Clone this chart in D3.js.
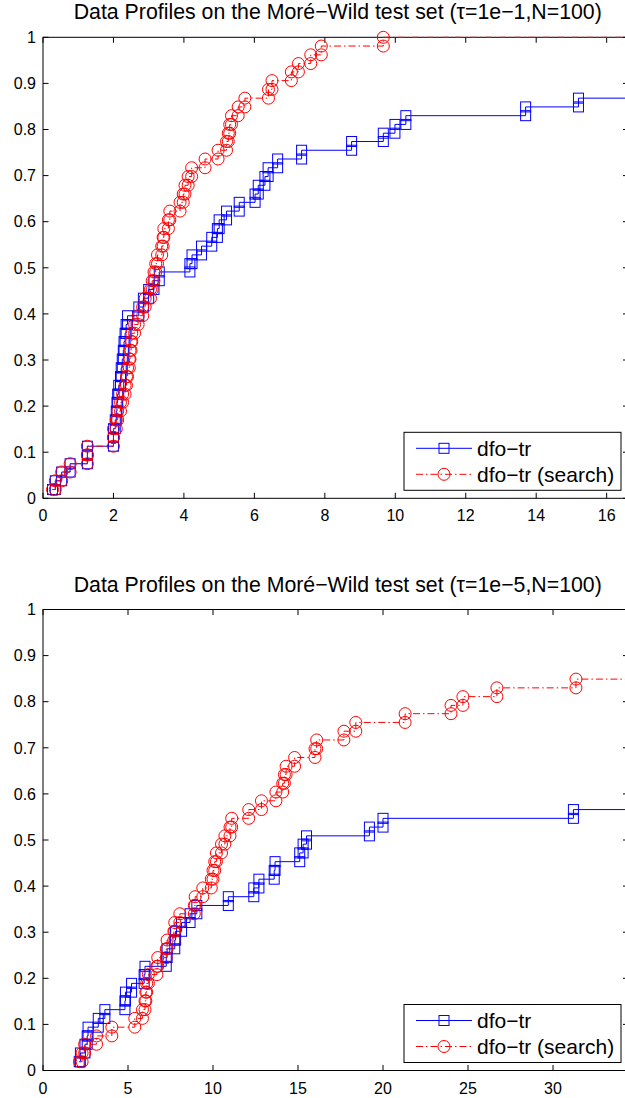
<!DOCTYPE html>
<html>
<head>
<meta charset="utf-8">
<script src="https://cdn.jsdelivr.net/npm/d3@7"></script>
<style>
  html, body { margin: 0; padding: 0; background: #fff; overflow: hidden; }
  svg { display: block; }
  text { font-family: "Liberation Sans", Arial, Helvetica, sans-serif; fill: #000; }
</style>
</head>
<body>
<svg id="chart" width="625" height="1098"></svg>
<script>
// ---------------- DATA ----------------
const seriesNames = ["dfo\u2212tr", "dfo\u2212tr (search)"];
const titles = [
  "Data Profiles on the Mor\u00e9\u2212Wild test set (\u03c4=1e\u22121,N=100)",
  "Data Profiles on the Mor\u00e9\u2212Wild test set (\u03c4=1e\u22125,N=100)"
];
const yTicks = [0, 0.1, 0.2, 0.3, 0.4, 0.5, 0.6, 0.7, 0.8, 0.9, 1];
const yTickLabels = ["0", "0.1", "0.2", "0.3", "0.4", "0.5", "0.6", "0.7", "0.8", "0.9", "1"];
const topXTicks = [0, 2, 4, 6, 8, 10, 12, 14, 16];
const botXTicks = [0, 5, 10, 15, 20, 25, 30];
const topXMax = 16.62;
const botXMax = 34.44;

// fraction of problems solved after each step
const levels = [0.019, 0.038, 0.057, 0.075, 0.094, 0.113, 0.132, 0.151, 0.170, 0.189,
                0.208, 0.226, 0.245, 0.264, 0.283, 0.302, 0.321, 0.340, 0.358, 0.377,
                0.396, 0.415, 0.434, 0.453, 0.472, 0.491, 0.509, 0.528, 0.547, 0.566,
                0.585, 0.604, 0.623, 0.642, 0.660, 0.679, 0.698, 0.717, 0.736, 0.755,
                0.774, 0.792, 0.811, 0.830, 0.849, 0.868, 0.887, 0.906, 0.925, 0.943,
                0.962, 0.981, 1.000];

// top panel (tau = 1e-1): budget at which each step happens
const topBlueX = [0.27, 0.35, 0.53, 0.77, 1.26, 1.26, 2.00, 2.00, 2.05, 2.08,
                  2.10, 2.12, 2.15, 2.20, 2.22, 2.25, 2.28, 2.30, 2.33, 2.36,
                  2.40, 2.72, 2.85, 3.00, 3.15, 3.30, 4.17, 4.23, 4.50, 4.79,
                  4.95, 5.00, 5.21, 5.57, 6.02, 6.11, 6.30, 6.39, 6.66, 7.34,
                  8.76, 9.66, 9.99, 10.30, 13.70, 15.20];
const topRedX  = [0.27, 0.35, 0.53, 0.77, 1.26, 1.26, 2.00, 2.00, 2.08, 2.12,
                  2.20, 2.26, 2.33, 2.37, 2.40, 2.45, 2.47, 2.50, 2.52, 2.60,
                  2.70, 2.83, 2.90, 3.05, 3.10, 3.15, 3.20, 3.25, 3.37, 3.41,
                  3.43, 3.56, 3.60, 3.89, 3.98, 4.03, 4.12, 4.22, 4.60, 4.97,
                  5.21, 5.26, 5.30, 5.35, 5.54, 5.73, 6.40, 6.50, 7.05, 7.25,
                  7.60, 7.90, 9.66];
// bottom panel (tau = 1e-5)
const botBlueX = [2.13, 2.20, 2.47, 2.60, 2.65, 3.25, 3.64, 4.82, 4.85, 5.21,
                  5.95, 6.00, 7.25, 7.30, 7.75, 7.80, 8.15, 8.65, 9.05, 10.90,
                  12.40, 12.70, 13.60, 13.65, 15.10, 15.30, 15.50, 19.20, 20.00, 31.20];
const botRedX  = [2.15, 2.30, 2.45, 3.15, 4.05, 5.40, 5.85, 6.00, 6.05, 6.10,
                  6.20, 6.70, 6.75, 7.25, 7.30, 7.70, 7.75, 8.05, 8.90, 8.95,
                  9.40, 9.90, 10.00, 10.10, 10.20, 10.50, 10.70, 11.00, 11.10, 12.10,
                  12.85, 13.70, 14.10, 14.20, 14.30, 14.80, 16.00, 16.10, 17.70, 18.40,
                  21.30, 24.00, 24.70, 26.70, 31.35];

// ---------------- DRAW ----------------
const svg = d3.select("#chart");
const left = 43, right = 628.5;
const panels = [
  { top: 37.3, bottom: 498.3, xMax: topXMax, xTicks: topXTicks, title: titles[0],
    blue: topBlueX, red: topRedX },
  { top: 609.5, bottom: 1070.5, xMax: botXMax, xTicks: botXTicks, title: titles[1],
    blue: botBlueX, red: botRedX }
];
const BLUE = "#0000ff", RED = "#ff0000";
const DASHDOT = "7,3,1.5,3";

// MATLAB-style stairs vertices: (x1,y1),(x2,y1),(x2,y2),...
function stairs(xs) {
  const pts = [];
  xs.forEach((x, i) => {
    if (i > 0) pts.push([x, levels[i - 1]]);
    pts.push([x, levels[i]]);
  });
  return pts;
}

panels.forEach(p => {
  const g = svg.append("g");
  const x = d3.scaleLinear().domain([0, p.xMax]).range([left, right]);
  const y = d3.scaleLinear().domain([0, 1]).range([p.bottom, p.top]);
  const tl = 5.5;

  // box
  g.append("rect").attr("x", left).attr("y", p.top)
    .attr("width", right - left).attr("height", p.bottom - p.top)
    .attr("fill", "none").attr("stroke", "#000").attr("stroke-width", 1);

  // ticks (all four sides, inward)
  p.xTicks.forEach(t => {
    g.append("line").attr("x1", x(t)).attr("x2", x(t)).attr("y1", p.bottom).attr("y2", p.bottom - tl)
      .attr("stroke", "#000");
    g.append("line").attr("x1", x(t)).attr("x2", x(t)).attr("y1", p.top).attr("y2", p.top + tl)
      .attr("stroke", "#000");
    g.append("text").attr("x", x(t)).attr("y", p.bottom + 23).attr("text-anchor", "middle")
      .attr("font-size", 16).text(t);
  });
  yTicks.forEach((t, i) => {
    g.append("line").attr("x1", left).attr("x2", left + tl).attr("y1", y(t)).attr("y2", y(t))
      .attr("stroke", "#000");
    g.append("line").attr("x1", right).attr("x2", right - tl).attr("y1", y(t)).attr("y2", y(t))
      .attr("stroke", "#000");
    g.append("text").attr("x", 36).attr("y", y(t)).attr("dy", "0.36em").attr("text-anchor", "end")
      .attr("font-size", 16).text(yTickLabels[i]);
  });

  // title
  g.append("text").attr("x", (left + right) / 2 + 2).attr("y", p.top - 18)
    .attr("text-anchor", "middle").attr("font-size", 21.3).text(p.title);

  const line = d3.line().x(d => x(d[0])).y(d => y(d[1]));

  const series = [
    { xs: p.blue, color: BLUE, dash: null, marker: "square" },
    { xs: p.red, color: RED, dash: DASHDOT, marker: "circle" }
  ];
  series.forEach(s => {
    const pts = stairs(s.xs);
    const full = pts.concat([[p.xMax, pts[pts.length - 1][1]]]);
    g.append("path").attr("d", line(full)).attr("fill", "none")
      .attr("stroke", s.color).attr("stroke-width", 1)
      .attr("stroke-dasharray", s.dash);
    const mg = g.append("g");
    if (s.marker === "square") {
      mg.selectAll("rect").data(pts).join("rect")
        .attr("x", d => x(d[0]) - 5).attr("y", d => y(d[1]) - 5)
        .attr("width", 10).attr("height", 10)
        .attr("fill", "none").attr("stroke", s.color).attr("stroke-width", 1);
    } else {
      mg.selectAll("circle").data(pts).join("circle")
        .attr("cx", d => x(d[0])).attr("cy", d => y(d[1])).attr("r", 6)
        .attr("fill", "none").attr("stroke", s.color).attr("stroke-width", 1);
    }
  });

  // legend
  const lx = 404, lw = 217, lh = 58, ly = p.bottom - 8 - lh;
  const lg = g.append("g");
  lg.append("rect").attr("x", lx).attr("y", ly).attr("width", lw).attr("height", lh)
    .attr("fill", "#fff").attr("stroke", "#000").attr("stroke-width", 1);
  const rows = [ly + 16, ly + 42];
  series.forEach((s, i) => {
    lg.append("line").attr("x1", lx + 12).attr("x2", lx + 68).attr("y1", rows[i]).attr("y2", rows[i])
      .attr("stroke", s.color).attr("stroke-width", 1).attr("stroke-dasharray", s.dash);
    if (s.marker === "square") {
      lg.append("rect").attr("x", lx + 40 - 5).attr("y", rows[i] - 5).attr("width", 10).attr("height", 10)
        .attr("fill", "none").attr("stroke", s.color);
    } else {
      lg.append("circle").attr("cx", lx + 40).attr("cy", rows[i]).attr("r", 6)
        .attr("fill", "none").attr("stroke", s.color);
    }
    lg.append("text").attr("x", lx + 73).attr("y", rows[i]).attr("dy", "0.36em")
      .attr("font-size", 21).text(seriesNames[i]);
  });
});
</script>
</body>
</html>
